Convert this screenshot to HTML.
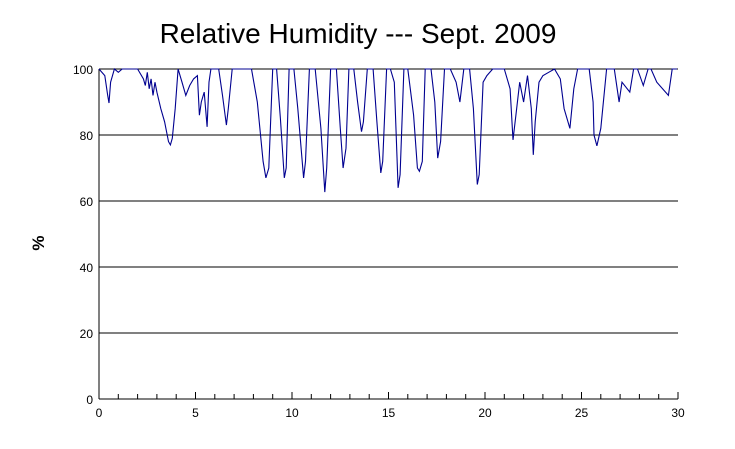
<!DOCTYPE html>
<html><head><meta charset="utf-8"><style>
body{margin:0;background:#fff;}
svg{display:block;font-family:"Liberation Sans",Arial,sans-serif;}
</style></head><body>
<svg id="chart" width="735" height="449">
<text x="358" y="43" font-size="28" text-anchor="middle">Relative Humidity --- Sept. 2009</text>
<text x="44" y="243" font-size="17" font-weight="bold" text-anchor="middle" transform="rotate(-90 44 243)">%</text>
<g id="grid"></g><g id="axes"></g><g id="series"></g>
</svg>
<script>
const xTicks=[0,5,10,15,20,25,30];
const yTicks=[0,20,40,60,80,100];
const days=[0,0.3,0.45,0.52,0.6,0.8,1.0,1.2,1.4,1.6,2.0,2.3,2.4,2.5,2.6,2.7,2.8,2.9,3.0,3.2,3.4,3.6,3.7,3.8,3.95,4.1,4.3,4.5,4.7,4.9,5.1,5.2,5.3,5.45,5.6,5.7,5.8,6.2,6.4,6.6,6.7,6.9,7.9,8.2,8.5,8.65,8.8,9.0,9.2,9.4,9.6,9.7,9.85,10.1,10.3,10.6,10.7,10.9,11.2,11.5,11.7,11.8,12.0,12.3,12.5,12.65,12.8,12.95,13.2,13.4,13.6,13.7,13.9,14.2,14.4,14.6,14.7,14.9,15.1,15.3,15.5,15.6,15.8,16.0,16.3,16.5,16.6,16.75,16.9,17.2,17.4,17.55,17.7,17.9,18.2,18.5,18.7,18.9,19.2,19.4,19.6,19.7,19.9,20.1,20.4,21.0,21.3,21.45,21.6,21.8,22.0,22.2,22.4,22.5,22.6,22.8,23.0,23.3,23.6,23.9,24.1,24.4,24.6,24.8,25.0,25.4,25.6,25.65,25.8,26.0,26.3,26.5,26.7,26.95,27.1,27.5,27.7,27.9,28.2,28.45,28.6,28.9,29.5,29.7,29.85,29.95];
const rh=[100,98,92,89.7,96,100,99,100,100,100,100,97,95,99,94,97,92,96,93,88,84,78,77,79,88,100,96,92,95,97,98,86,90,93,82.5,96,100,100,92,83,88,100,100,90,72,67,70,100,100,85,67,70,100,100,88,67,72,100,100,82,62.7,70,100,100,82,70,76,100,100,90,81,84,100,100,84,68.5,72,100,100,96,64,68,100,100,86,70,69,72,100,100,90,73,78,100,100,96,90,100,100,88,65,68,96,98,100,100,94,78.5,86,96,90,98,88,74,84,96,98,99,100,97,88,82,94,100,100,100,90,80,76.7,82,100,100,100,90,96,93,100,100,95,100,100,96,92,100,100,100,92,88,81.5];
const L=99,R=678,T=69,B=399;
const xs=d=>L+(R-L)*d/30, ys=v=>B-(B-T)*v/100;
const NS="http://www.w3.org/2000/svg";
function mk(tag,attrs,parent){const e=document.createElementNS(NS,tag);for(const k in attrs)e.setAttribute(k,attrs[k]);document.getElementById(parent).appendChild(e);return e;}
yTicks.forEach(v=>{
 if(v>0){const g=mk('line',{x1:L,x2:R,y1:ys(v),y2:ys(v),stroke:'#000','stroke-width':1},'grid');
 
 }
 const t=mk('text',{x:L-6,y:ys(v)+5,'font-size':12,'text-anchor':'end'},'axes');
 t.textContent=v;
 
 
});
const ya=mk('line',{x1:L,x2:L,y1:T,y2:B,stroke:'#000'},'axes');


const xa=mk('line',{x1:L,x2:R,y1:B,y2:B,stroke:'#000'},'axes');


for(let d=0;d<=30;d++){
 const tk=mk('line',{x1:xs(d),x2:xs(d),y1:B,y2:B-(d%5===0?7:5),stroke:'#000'},'axes');
 
 
}
xTicks.forEach(d=>{
 const t=mk('text',{x:xs(d),y:B+18,'font-size':12,'text-anchor':'middle'},'axes');
 t.textContent=d;
 
 
});
const p=mk('polyline',{points:days.map((d,i)=>xs(d).toFixed(1)+','+ys(rh[i]).toFixed(1)).join(' '),fill:'none',stroke:'#000090','stroke-width':1.1},'series');


</script>
</body></html>
